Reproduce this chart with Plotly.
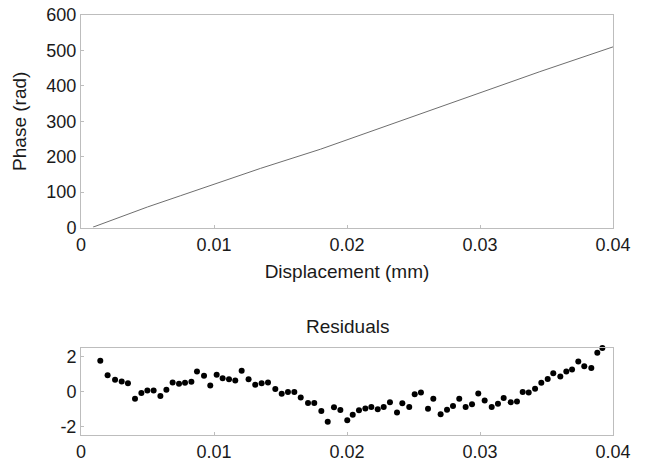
import plotly.graph_objects as go
from plotly.subplots import make_subplots

# Top panel: phase vs displacement
disp_line = [0.0009, 0.005, 0.0075, 0.0135, 0.018, 0.024, 0.0285, 0.0345, 0.04]
phase_line = [1, 58, 90, 167, 221, 301, 362, 440, 510]

# Bottom panel: residuals
res_x = [
    0.00145, 0.00200, 0.00256, 0.00306, 0.00353, 0.00406, 0.00454, 0.00499, 0.00546, 0.00597,
    0.00642, 0.00689, 0.00737, 0.00782, 0.00830, 0.00872, 0.00925, 0.00972, 0.01020,
    0.01065, 0.01113, 0.01160, 0.01208, 0.01260, 0.01310, 0.01358, 0.01406, 0.01461, 0.01509,
    0.01556, 0.01604, 0.01652, 0.01707, 0.01754, 0.01807, 0.01855, 0.01902, 0.01950, 0.02002,
    0.02043, 0.02090, 0.02138, 0.02183, 0.02231, 0.02276, 0.02323, 0.02376, 0.02416, 0.02468,
    0.02509, 0.02556, 0.02609, 0.02649, 0.02704, 0.02752, 0.02797, 0.02844, 0.02892, 0.02940,
    0.02987,
    0.03035, 0.03088, 0.03135, 0.03178, 0.03231, 0.03278, 0.03321, 0.03366, 0.03414, 0.03461,
    0.03509, 0.03551, 0.03604, 0.03649, 0.03692, 0.03739, 0.03784, 0.03837, 0.03882, 0.03920,
]
res_y = [
    1.77, 0.93, 0.68, 0.58, 0.47, -0.41, -0.09, 0.06, 0.06, -0.25,
    0.10, 0.52, 0.45, 0.51, 0.56, 1.15, 0.91, 0.35, 0.97,
    0.76, 0.70, 0.64, 1.19, 0.70, 0.39, 0.47, 0.52, 0.14, -0.13,
    -0.03, -0.03, -0.35, -0.66, -0.66, -1.12, -1.74, -0.91, -1.06, -1.65,
    -1.34, -1.08, -0.97, -0.89, -1.02, -0.89, -0.62, -1.20, -0.67, -0.89,
    -0.15, -0.06, -0.99, -0.41, -1.31, -1.05, -0.83, -0.42, -0.89, -0.73,
    -0.12,
    -0.52, -0.89, -0.70, -0.37, -0.62, -0.58, -0.02, -0.06, 0.16, 0.51,
    0.72, 1.05, 0.87, 1.15, 1.26, 1.73, 1.45, 1.36, 2.23, 2.50,
]

x_ticks = [0, 0.01, 0.02, 0.03, 0.04]
x_tick_text = ["0", "0.01", "0.02", "0.03", "0.04"]
phase_ticks = [0, 100, 200, 300, 400, 500, 600]
res_ticks = [-2, 0, 2]
res_tick_text = ["-2", "0", "2"]

FONT = "Arial, Liberation Sans, Helvetica, sans-serif"
TXT = "#1a1a1a"
BOX = "#bdbdbd"

fig = make_subplots(rows=2, cols=1)

fig.add_trace(go.Scatter(x=disp_line, y=phase_line, mode="lines",
                         line=dict(color="#6e6e6e", width=1), showlegend=False),
              row=1, col=1)
fig.add_trace(go.Scatter(x=res_x, y=res_y, mode="markers",
                         marker=dict(color="black", size=6), showlegend=False,
                         cliponaxis=False),
              row=2, col=1)

axis_common = dict(showgrid=False, zeroline=False, showline=True, mirror=True,
                   linecolor=BOX, linewidth=1, ticks="inside", ticklen=3,
                   tickcolor=BOX, automargin=False, ticklabeloverflow="allow",
                   tickfont=dict(size=18, color=TXT, family=FONT))

fig.update_layout(
    width=646, height=461,
    margin=dict(l=81, r=33, t=15, b=26),
    paper_bgcolor="white", plot_bgcolor="white",
    font=dict(family=FONT, size=18, color=TXT),
    xaxis=dict(axis_common, domain=[0, 1], range=[0, 0.04],
               tickvals=x_ticks, ticktext=x_tick_text, ticklabelstandoff=1,
               title=dict(text="Displacement (mm)", font=dict(size=19, color=TXT), standoff=10)),
    yaxis=dict(axis_common, domain=[0.494, 1.0], range=[0, 600],
               tickvals=phase_ticks,
               title=dict(text="Phase (rad)", font=dict(size=19, color=TXT), standoff=14)),
    xaxis2=dict(axis_common, domain=[0, 1], range=[0, 0.04],
                tickvals=x_ticks, ticktext=x_tick_text, ticklabelstandoff=0),
    yaxis2=dict(axis_common, domain=[0.0, 0.207], range=[-2.5, 2.5],
                tickvals=res_ticks, ticktext=res_tick_text),
    annotations=[dict(text="Residuals", x=0.5, y=0.207, xref="paper", yref="paper",
                      xanchor="center", yanchor="bottom", yshift=9, showarrow=False,
                      font=dict(size=19, color=TXT, family=FONT))],
)

fig.write_html("out.html", config={"displayModeBar": False},
               post_script="document.body.style.margin='0px';")
